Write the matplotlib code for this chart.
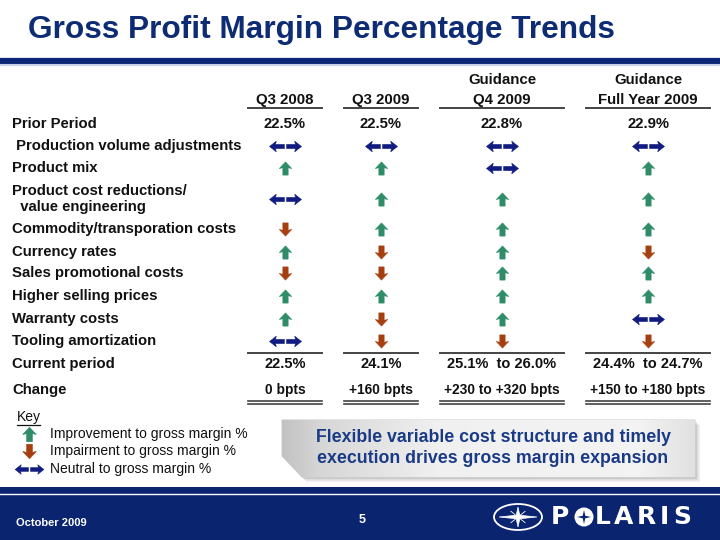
import numpy as np
import matplotlib
matplotlib.use("Agg")
import matplotlib.pyplot as plt
from matplotlib.path import Path
from matplotlib.patches import Polygon, Rectangle, Ellipse, Circle

plt.rcParams['font.family'] = ['Liberation Sans', 'DejaVu Sans']

# ---- table content ----
title = "Gross Profit Margin Percentage Trends"
col_top = ["", "", "Guidance", "Guidance"]
col_bottom = ["Q3 2008", "Q3 2009", "Q4 2009", "Full Year 2009"]

row_labels = [
    " Production volume adjustments",
    "Product mix",
    "Product cost reductions/\n  value engineering",
    "Commodity/transporation costs",
    "Currency rates",
    "Sales promotional costs",
    "Higher selling prices",
    "Warranty costs",
    "Tooling amortization",
]
# U = improvement, D = impairment, N = neutral
q3_2008 = ["N", "U", "N", "D", "U", "D", "U", "U", "N"]
q3_2009 = ["N", "U", "U", "U", "D", "D", "U", "D", "D"]
q4_2009 = ["N", "N", "U", "U", "U", "U", "U", "U", "D"]
fy_2009 = ["N", "U", "U", "U", "D", "U", "U", "N", "D"]

prior_period = ["22.5%", "22.5%", "22.8%", "22.9%"]
current_period = ["22.5%", "24.1%", "25.1%  to 26.0%", "24.4%  to 24.7%"]
change = ["0 bpts", "+160 bpts", "+230 to +320 bpts", "+150 to +180 bpts"]

key_labels = ["Improvement to gross margin %", "Impairment to gross margin %",
              "Neutral to gross margin %"]
callout = "Flexible variable cost structure and timely\nexecution drives gross margin expansion"
footer_date = "October 2009"
page_no = "5"

# ---- layout / style ----
navy = "#0E2C74"
green = "#2E8C68"
brown = "#A63F10"
arrow_navy = "#101C80"
footer_blue = "#0A2470"
col_x = [285, 381, 502, 648]
col_half = [37, 37, 62, 62]
row_y = [146, 168, 199, 229, 252, 273, 296, 319, 341]
label_x = 12


def up_path():
    v = [(0, 0.5), (0.47, 0.0), (0.2, 0.06), (0.2, -0.5), (-0.2, -0.5),
         (-0.2, 0.06), (-0.47, 0.0), (0, 0.5)]
    return Path(v, closed=True)


def down_path():
    v = [(x, -y) for x, y in up_path().vertices]
    return Path(v, closed=True)


def neutral_path():
    right = [(1.0, 0), (0.58, 0.33), (0.62, 0.13), (0.07, 0.13), (0.07, -0.13),
             (0.62, -0.13), (0.58, -0.33), (1.0, 0)]
    left = [(-x, y) for x, y in right]
    verts = right + left
    codes = ([Path.MOVETO] + [Path.LINETO] * 6 + [Path.CLOSEPOLY]) * 2
    return Path(verts, codes)


markers = {"U": (up_path(), green, 9.5), "D": (down_path(), brown, 9.5),
           "N": (neutral_path(), arrow_navy, 23)}

fig = plt.figure(figsize=(7.2, 5.4), dpi=100)
ax = fig.add_axes([0, 0, 1, 1])
ax.set_xlim(0, 720)
ax.set_ylim(540, 0)
ax.axis("off")

# title and rule
ax.text(28, 30, title, fontsize=22.8, fontweight="bold", color=navy, va="center", ha="left")
ax.axhline(61, color="#0B2677", lw=4.5)
ax.axhline(64.5, color="#C9D0E4", lw=1.5)

# column headers
for x, half, top, bot in zip(col_x, col_half, col_top, col_bottom):
    if top:
        ax.text(x, 80, top, fontsize=10.8, fontweight="bold", ha="center", va="center", color="#111")
    ax.text(x, 100, bot, fontsize=10.8, fontweight="bold", ha="center", va="center", color="#111")
    ax.plot([x - half, x + half], [108, 108], color="#444", lw=1.4)
    ax.plot([x - half, x + half], [353, 353], color="#444", lw=1.4)
    ax.plot([x - half, x + half], [401, 401], color="#444", lw=1.2)
    ax.plot([x - half, x + half], [404, 404], color="#444", lw=1.2)

# row labels
ax.text(label_x, 124, "Prior Period", fontsize=10.7, fontweight="bold", va="center", color="#111")
for y, lab in zip(row_y, row_labels):
    ax.text(label_x, y, lab, fontsize=10.7, fontweight="bold", va="center", color="#111",
            linespacing=1.15)
ax.text(label_x, 364, "Current period", fontsize=10.7, fontweight="bold", va="center", color="#111")
ax.text(label_x, 390, "Change", fontsize=10.7, fontweight="bold", va="center", color="#111")

# values
for x, p, c, ch in zip(col_x, prior_period, current_period, change):
    ax.text(x, 124, p, fontsize=10.7, fontweight="bold", ha="center", va="center", color="#111")
    ax.text(x, 364, c, fontsize=10.5, fontweight="bold", ha="center", va="center", color="#111")
    ax.text(x, 390, ch, fontsize=9.9, fontweight="bold", ha="center", va="center", color="#111")

# arrows
for x, col in zip(col_x, [q3_2008, q3_2009, q4_2009, fy_2009]):
    for kind in "UDN":
        ys = [y for y, s in zip(row_y, col) if s == kind]
        if ys:
            path, color, ms = markers[kind]
            ax.plot([x] * len(ys), ys, marker=path, ms=ms, ls="none", color=color, mec=color, mew=0.4)

# key
ax.text(17, 417, "Key", fontsize=10, va="center", color="#111")
ax.plot([17, 40], [425, 425], color="#111", lw=0.9)
for y, kind, lab in zip([434, 451, 469], "UDN", key_labels):
    path, color, ms = markers[kind]
    ax.plot([29], [y], marker=path, ms=ms * (1.1 if kind != "N" else 0.9), ls="none",
            color=color, mec=color, mew=0.4)
    ax.text(50, y, lab, fontsize=10, va="center", color="#111")

# callout box
box = [(282, 420), (695, 420), (695, 477), (302, 477), (282, 456)]
for off, a in [(5, 0.12), (3.5, 0.18), (2, 0.22)]:
    ax.add_patch(Polygon([(px + off, py + off) for px, py in box], closed=True,
                         fc="#888888", ec="none", alpha=a))
poly = Polygon(box, closed=True, fc="none", ec="#D0D0D0", lw=0.8)
ax.add_patch(poly)
gx = np.linspace(282, 695, 200)
shade = np.interp(gx, [282, 320, 440, 640, 695], [0.76, 0.84, 0.94, 0.95, 0.88])
grad = np.tile(shade, (10, 1))
img = ax.imshow(grad, extent=[282, 695, 477, 420], cmap="gray", vmin=0, vmax=1,
                aspect="auto", zorder=1)
img.set_clip_path(poly)
ax.text(493, 448, callout, fontsize=12.8, fontweight="bold", color="#1A3A86",
        ha="center", va="center", linespacing=1.25, zorder=3)

# footer
ax.add_patch(Rectangle((0, 487), 720, 53, fc=footer_blue, ec="none"))
ax.plot([0, 720], [493.5, 493.5], color="white", lw=1.0)
ax.text(16, 523, footer_date, fontsize=8, fontweight="bold", color="white", va="center")
ax.text(362, 520, page_no, fontsize=9, fontweight="bold", color="white", va="center", ha="center")

# logo: oval with compass star
cx, cy = 518, 517
ax.add_patch(Ellipse((cx, cy), 48, 26, fc="none", ec="white", lw=1.3))
star = []
for k in range(8):
    ang = np.pi / 4 * k
    if k % 2 == 1:
        r_x = r_y = 2.5
    else:
        r_x, r_y = 19, 10
    star.append((cx + r_x * np.cos(ang), cy - r_y * np.sin(ang)))
ax.add_patch(Polygon(star, closed=True, fc="white", ec="white", lw=0.5))
for ang in np.deg2rad([45, 135, 225, 315]):
    ax.plot([cx, cx + 10 * np.cos(ang)], [cy, cy - 8 * np.sin(ang)], color="white", lw=0.6)

ax.text(551, 517, "P", fontsize=18, fontweight="heavy", family="DejaVu Sans",
        color="white", va="center", ha="left")
ax.add_patch(Circle((584, 517), 9.5, fc="white", ec="none"))
mini = []
for k in range(8):
    ang = np.pi / 4 * k
    rr = 7 if k % 2 == 0 else 1.8
    mini.append((584 + rr * np.cos(ang), 517 - rr * np.sin(ang)))
ax.add_patch(Polygon(mini, closed=True, fc=footer_blue, ec="none"))
for x, ch in zip([603, 624, 646, 664, 682], "LARIS"):
    ax.text(x, 517, ch, fontsize=18, fontweight="heavy", family="DejaVu Sans",
            color="white", va="center", ha="center")

fig.savefig("out.png", dpi=100)
